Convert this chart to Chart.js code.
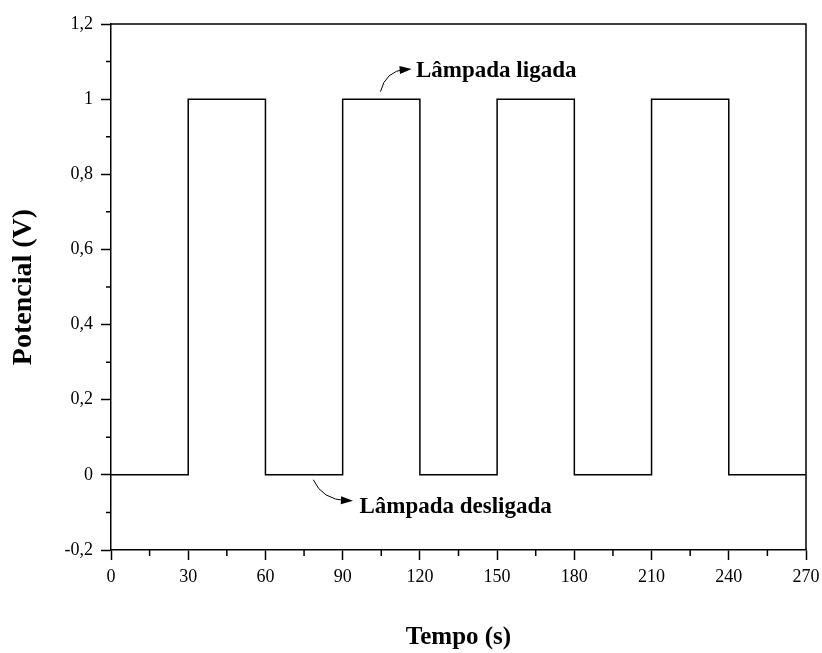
<!DOCTYPE html>
<html lang="pt">
<head>
  <meta charset="UTF-8" />
  <title>Potencial x Tempo</title>
  <script src="https://cdn.jsdelivr.net/npm/chart.js"></script>
  <style>
    body { margin: 0; background: #fff; }
    canvas { display: block; }
  </style>
</head>
<body>
  <canvas id="chart" width="822" height="653"></canvas>

  <script>
    // Square wave: lamp on/off every 30 s
    const tempo = [0, 30, 30, 60, 60, 90, 90, 120, 120, 150, 150, 180, 180, 210, 210, 240, 240, 270];
    const potencial = [0, 0, 1, 1, 0, 0, 1, 1, 0, 0, 1, 1, 0, 0, 1, 1, 0, 0];

    const xTicks = [0, 30, 60, 90, 120, 150, 180, 210, 240, 270];
    const yTicks = [-0.2, 0, 0.2, 0.4, 0.6, 0.8, 1, 1.2];

    const notes = [
      { text: 'Lâmpada ligada', at: [118.5, 1.075], from: [104.7, 1.02], to: [116.8, 1.08], bend: [106.5, 1.074] },
      { text: 'Lâmpada desligada', at: [96.5, -0.087], from: [78.6, -0.013], to: [94, -0.069], bend: [82, -0.066] }
    ];

    const serif = "'Liberation Serif', 'Times New Roman', serif";

    // minor ticks halfway between the major ones, outside the axis, plus the frame on top/right
    const frameAndMinor = {
      id: 'frameAndMinor',
      afterDraw(chart) {
        const { ctx, chartArea: a, scales: { x, y } } = chart;
        ctx.save();
        ctx.strokeStyle = '#000';
        ctx.lineWidth = 1.5;
        ctx.beginPath();
        ctx.moveTo(a.left, a.top); ctx.lineTo(a.right, a.top); ctx.lineTo(a.right, a.bottom);
        for (let i = 0; i < xTicks.length - 1; i++) {
          const px = x.getPixelForValue((xTicks[i] + xTicks[i + 1]) / 2);
          ctx.moveTo(px, a.bottom); ctx.lineTo(px, a.bottom + 6);
        }
        for (let i = 0; i < yTicks.length - 1; i++) {
          const py = y.getPixelForValue((yTicks[i] + yTicks[i + 1]) / 2);
          ctx.moveTo(a.left, py); ctx.lineTo(a.left - 5, py);
        }
        ctx.stroke();
        ctx.restore();
      }
    };

    const annotations = {
      id: 'annotations',
      afterDatasetsDraw(chart) {
        const { ctx, scales: { x, y } } = chart;
        const P = (p) => [x.getPixelForValue(p[0]), y.getPixelForValue(p[1])];
        ctx.save();
        notes.forEach(n => {
          const [sx, sy] = P(n.from), [ex, ey] = P(n.to), [cx, cy] = P(n.bend);
          ctx.strokeStyle = '#000';
          ctx.lineWidth = 1;
          ctx.beginPath();
          ctx.moveTo(sx, sy);
          ctx.quadraticCurveTo(cx, cy, ex - 6, ey);
          ctx.stroke();
          // arrow head
          const ang = Math.atan2(ey - cy, ex - cx);
          ctx.fillStyle = '#000';
          ctx.beginPath();
          ctx.moveTo(ex, ey);
          ctx.lineTo(ex - 12 * Math.cos(ang) + 4 * Math.sin(ang), ey - 12 * Math.sin(ang) - 4 * Math.cos(ang));
          ctx.lineTo(ex - 12 * Math.cos(ang) - 4 * Math.sin(ang), ey - 12 * Math.sin(ang) + 4 * Math.cos(ang));
          ctx.closePath();
          ctx.fill();
          const [tx, ty] = P(n.at);
          ctx.font = 'bold 23px ' + serif;
          ctx.textAlign = 'left';
          ctx.textBaseline = 'middle';
          ctx.fillText(n.text, tx, ty);
        });
        ctx.restore();
      }
    };

    new Chart(document.getElementById('chart'), {
      type: 'scatter',
      data: {
        datasets: [{
          data: tempo.map((t, i) => ({ x: t, y: potencial[i] })),
          showLine: true,
          borderColor: '#000',
          borderWidth: 1.5,
          pointRadius: 0,
          tension: 0
        }]
      },
      options: {
        responsive: false,
        animation: false,
        layout: { padding: { top: 24, right: 16, left: 0, bottom: 0 } },
        plugins: { legend: { display: false }, tooltip: { enabled: false } },
        scales: {
          x: {
            type: 'linear',
            min: 0, max: 270,
            afterFit: s => { s.height = 103; s.paddingLeft = 0; s.paddingRight = 0; },
            afterBuildTicks: s => { s.ticks = xTicks.map(v => ({ value: v })); },
            grid: { drawOnChartArea: false, drawTicks: true, tickLength: 10, tickColor: '#000', tickWidth: 1.5 },
            border: { display: true, color: '#000', width: 1.5 },
            ticks: { color: '#000', padding: 6, font: { family: serif, size: 18 }, maxRotation: 0 },
            title: { display: true, text: 'Tempo (s)', color: '#000', padding: { bottom: 0 }, font: { family: serif, size: 25, weight: 'bold' } }
          },
          y: {
            min: -0.2, max: 1.2,
            afterFit: s => { s.width = 111; s.paddingTop = 0; s.paddingBottom = 0; },
            afterBuildTicks: s => { s.ticks = yTicks.map(v => ({ value: v })); },
            grid: { drawOnChartArea: false, drawTicks: true, tickLength: 10, tickColor: '#000', tickWidth: 1.5 },
            border: { display: true, color: '#000', width: 1.5 },
            ticks: {
              color: '#000', padding: 8, font: { family: serif, size: 18 },
              callback: v => String(Math.round(v * 10) / 10).replace('.', ',')
            },
            title: { display: true, text: 'Potencial (V)', color: '#000', padding: { top: 7 }, font: { family: serif, size: 28, weight: 'bold' } }
          }
        }
      },
      plugins: [frameAndMinor, annotations]
    });
  </script>
</body>
</html>
